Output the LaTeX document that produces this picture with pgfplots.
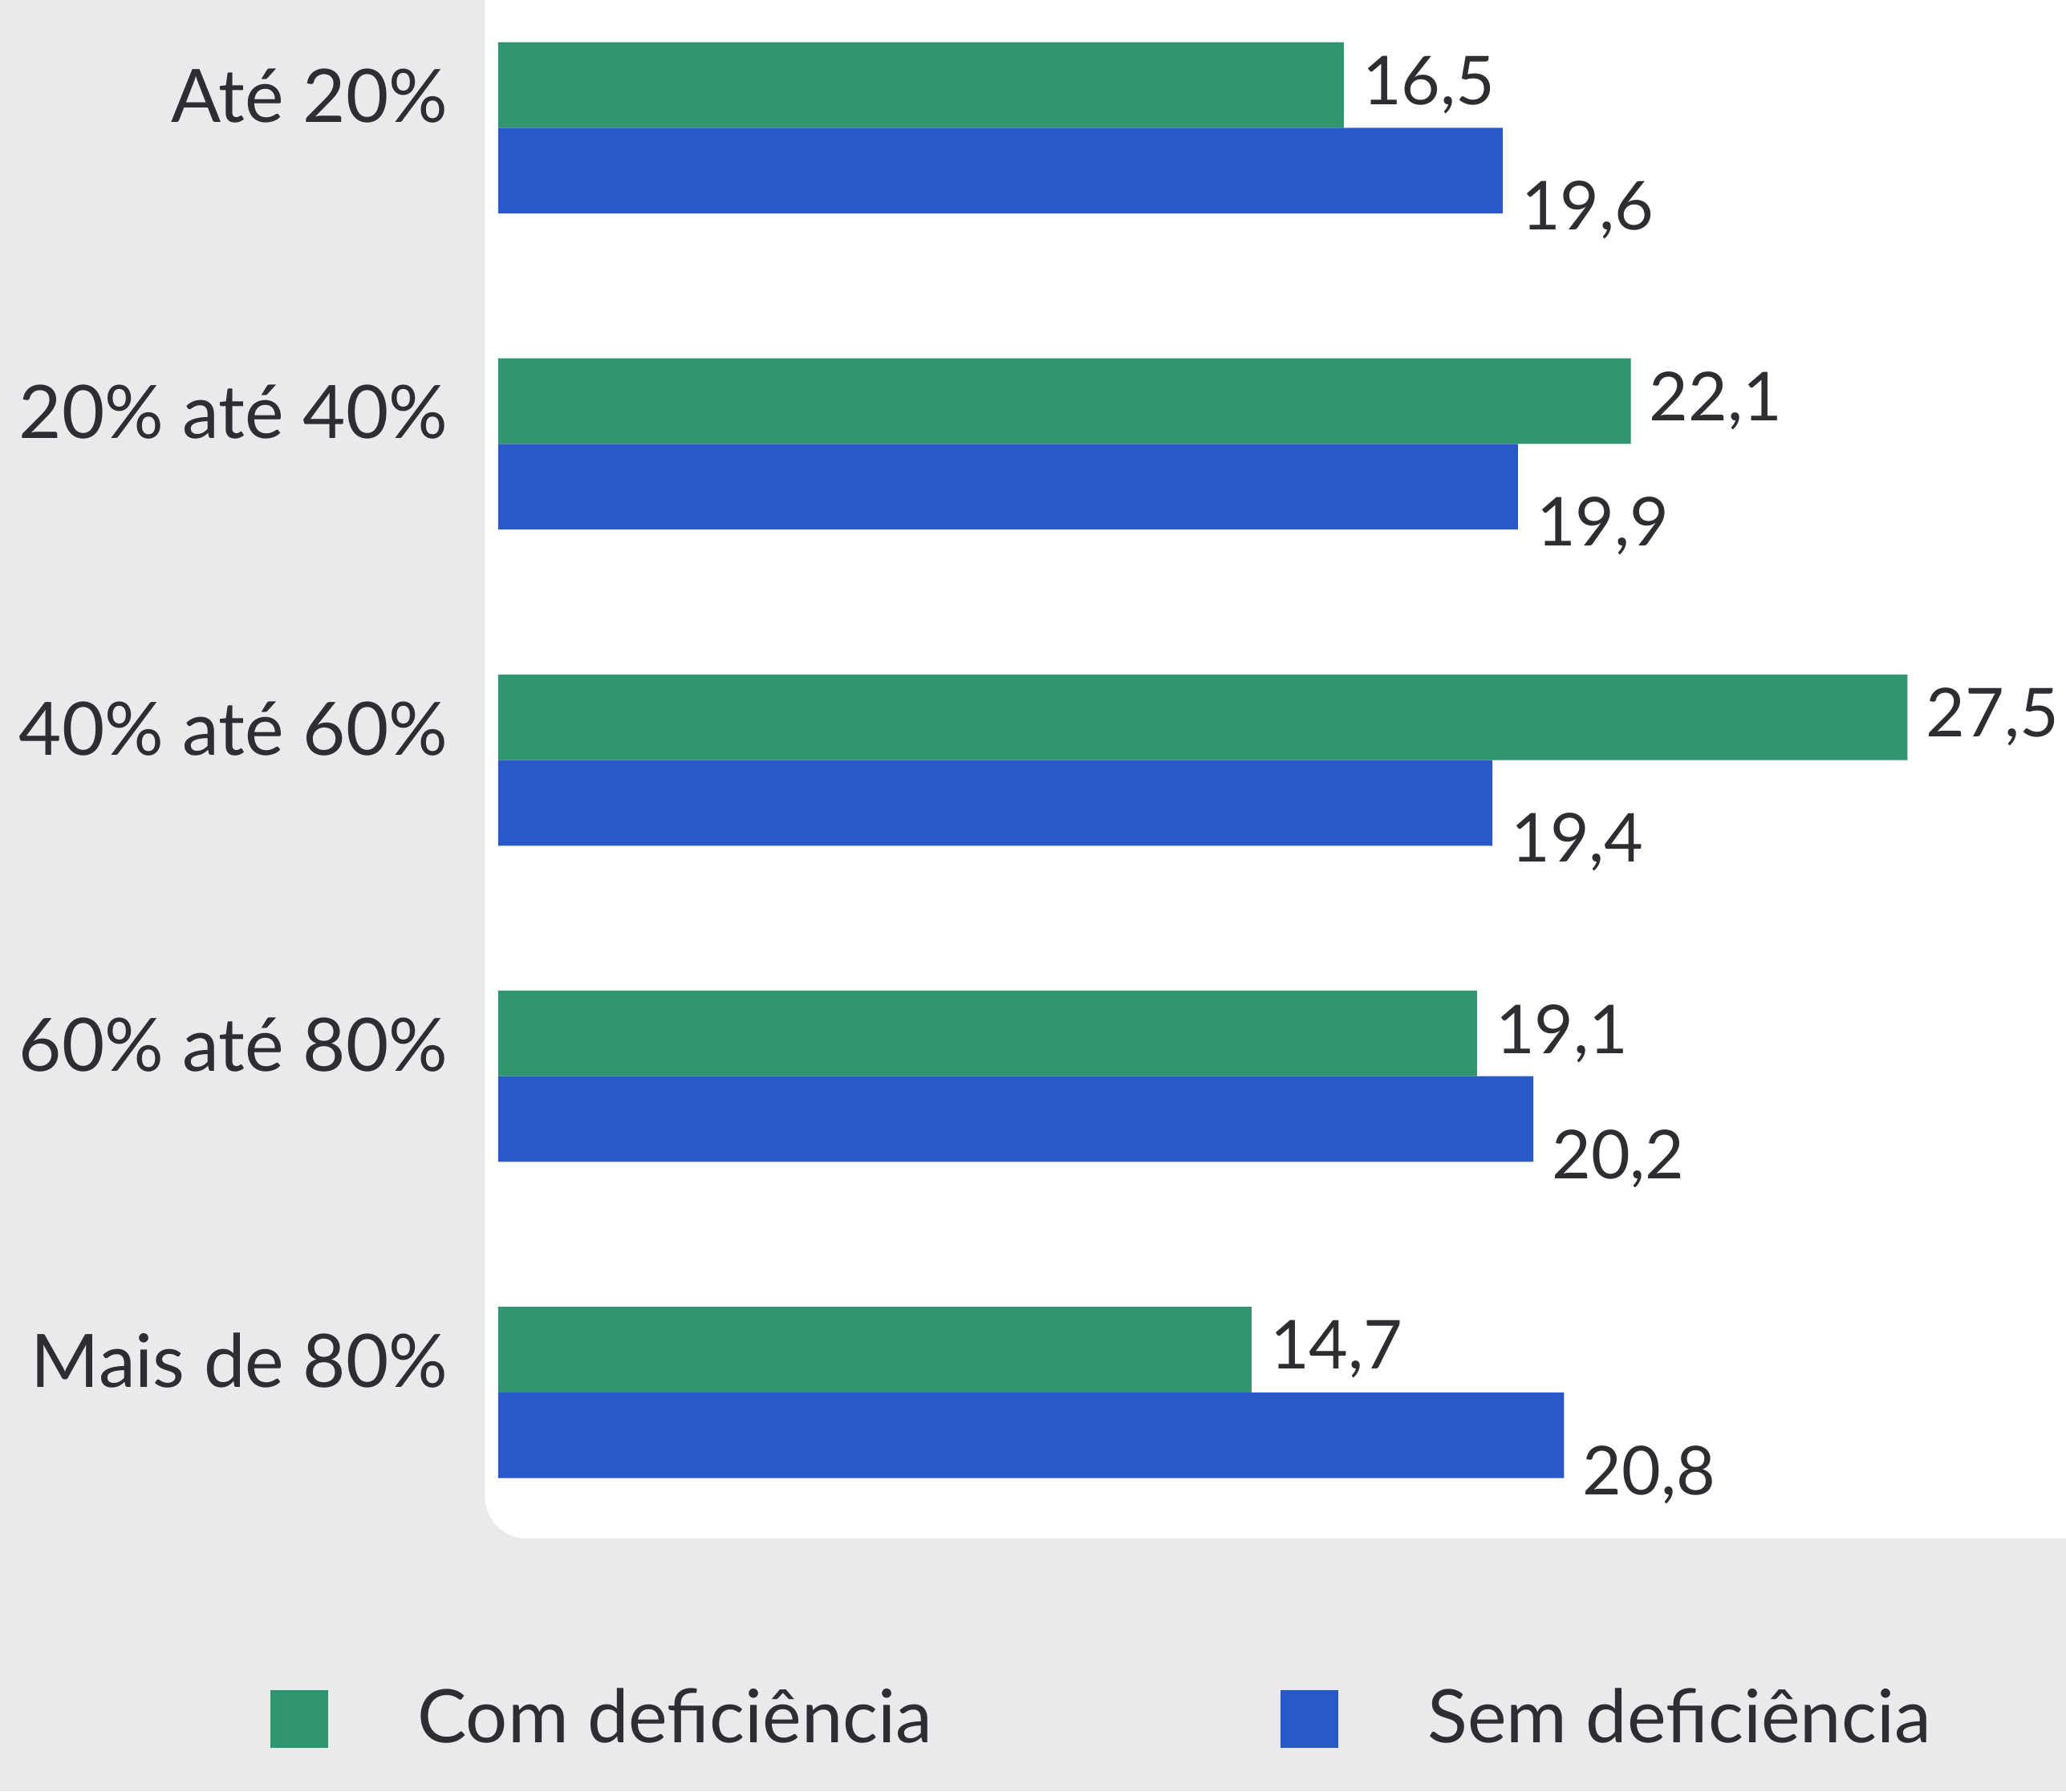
\documentclass[border=0pt]{standalone}
\usepackage{pgfplots}
\pgfplotsset{compat=1.18}
\usepackage{fontspec}
\setmainfont{Lato}
\definecolor{verde}{RGB}{48,150,112}
\definecolor{azul}{RGB}{42,88,200}
\definecolor{texto}{RGB}{45,45,50}
\definecolor{papel}{RGB}{232,234,236}
\begin{document}
\begin{tikzpicture}[x=1pt,y=1pt]
\fill[papel] (0,0) rectangle (392,340);
\fill[white, rounded corners=8pt] (92,48) rectangle (400,348);
\begin{axis}[
  at={(94.5pt,339.75pt)}, anchor=north west,
  scale only axis, width=291.75pt, height=288pt,
  xmin=0, xmax=30, ymin=-0.4, ymax=4.4, y dir=reverse,
  xbar, bar width=16.25pt,
  axis line style={draw=none}, xtick=\empty,
  ytick={0,1,2,3,4}, major tick length=0pt,
  yticklabels={Até 20\%, 20\% até 40\%, 40\% até 60\%, 60\% até 80\%, Mais de 80\%},
  yticklabel style={font=\fontsize{14}{16}\selectfont, text=texto, yshift=6pt, xshift=-6pt},
  nodes near coords,
  nodes near coords style={font=\fontsize{12.8}{15}\selectfont, text=texto, anchor=west, xshift=0pt},
  /pgf/number format/.cd, use comma, fixed, precision=1, fixed zerofill, assume math mode=true,
  /pgfplots/.cd,
  legend columns=2,
  legend style={draw=none, fill=none, inner sep=0pt, at={(rel axis cs:-0.149,-0.132)}, anchor=west,
    font=\fontsize{14}{17}\selectfont, text=texto,
    /tikz/every odd column/.append style={column sep=15pt},
    /tikz/every even column/.append style={column sep=64pt}},
  legend image code/.code={\fill[#1] (0pt,-5.5pt) rectangle (11pt,5.5pt);},
  clip=false,
]
\addplot+[draw=none, fill=verde, bar shift=8.125pt, every node near coord/.append style={yshift=0pt}] coordinates {
  (16.5,0) (22.1,1) (27.5,2) (19.1,3) (14.7,4)};
\addlegendentry{Com deficiência}
\addplot+[draw=none, fill=azul, bar shift=-8.125pt, every node near coord/.append style={yshift=-7.5pt}] coordinates {
  (19.6,0) (19.9,1) (19.4,2) (20.2,3) (20.8,4)};
\addlegendentry{Sem deficiência}
\end{axis}
\pgfresetboundingbox
\path (0,0) rectangle (392,340);
\end{tikzpicture}
\end{document}
